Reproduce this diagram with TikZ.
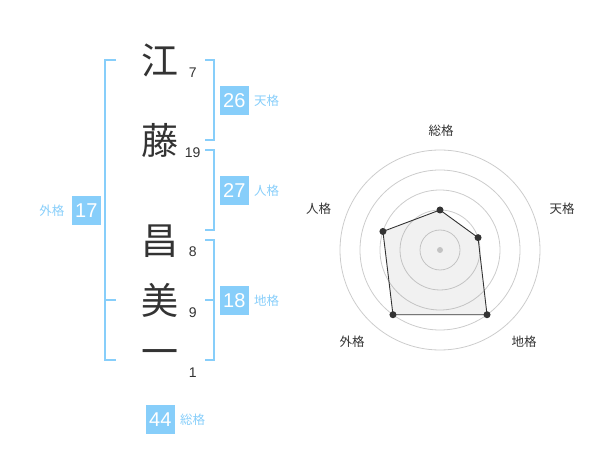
\documentclass[tikz,border=0pt]{standalone}
\usepackage{fontspec}
\setmainfont{Liberation Sans}
\newfontfamily\cjk{Noto Sans CJK JP}
\usepackage{tikz}
\usetikzlibrary{calc}
\usetikzlibrary{positioning}
\definecolor{kakucolour}{RGB}{135,206,250}
\definecolor{inkcolour}{RGB}{51,51,51}
\definecolor{ringcolour}{RGB}{204,204,204}
\definecolor{areacolour}{RGB}{120,120,120}
\newcommand\bracketwd{2pt}
\newcommand\ringwd{.8pt}
\newcommand\areawd{.9pt}
\tikzstyle{kanji}    = [font=\cjk\fontsize{37}{37}\selectfont, text=inkcolour, inner sep=0pt]
\tikzstyle{strokes}  = [font=\fontsize{14}{14}\selectfont, text=inkcolour, inner sep=0pt]
\tikzstyle{kakubox}  = [fill=kakucolour, text=white, minimum size=29pt, inner sep=0pt,
                        font=\fontsize{20}{20}\selectfont]
\tikzstyle{kakuname} = [font=\cjk\fontsize{12.5}{12.5}\selectfont, text=kakucolour, inner sep=0pt]
\tikzstyle{bracket}  = [draw=kakucolour, line width=\bracketwd]
\tikzstyle{ring}     = [draw=ringcolour, line width=\ringwd]
\tikzstyle{area}     = [draw=inkcolour, line width=\areawd, fill=areacolour, fill opacity=.1]
\tikzstyle{vertex}   = [circle, fill=inkcolour, minimum size=7pt, inner sep=0pt]
\tikzstyle{axisname} = [font=\cjk\fontsize{12.5}{12.5}\selectfont, text=inkcolour, inner sep=0pt]

\begin{document}
\begin{tikzpicture}[x=1pt, y=-1pt]
    \useasboundingbox (0, 0) rectangle (600, 470);
    \draw (160, 60) node[kanji] (c1) {江};
    \draw (160, 140.5) node[kanji] (c2) {藤};
    \draw (160, 241) node[kanji] (c3) {昌};
    \draw (160, 300) node[kanji] (c4) {美};
    \draw (160, 358) node[kanji] (c5) {一};
    \draw (192.7, 72.5) node[strokes] (s1) {7};
    \draw (192.7, 152.5) node[strokes] (s2) {19};
    \draw (192.7, 252) node[strokes] (s3) {8};
    \draw (192.7, 312.5) node[strokes] (s4) {9};
    \draw (192.7, 372.5) node[strokes] (s5) {1};
    \draw[bracket] (205, 60) -- (214, 60) -- (214, 140) -- (205, 140);
    \draw[bracket] (205, 150) -- (214, 150) -- (214, 230) -- (205, 230);
    \draw[bracket] (205, 240) -- (214, 240) -- (214, 360) -- (205, 360);
    \draw[bracket] (214, 300) -- (205, 300);
    \draw[bracket] (116, 60) -- (105, 60) -- (105, 360) -- (116, 360);
    \draw[bracket] (105, 300) -- (116, 300);
    \draw (234.3, 100.3) node[kakubox] (ten) {26};
    \draw (234.3, 190.3) node[kakubox] (jin) {27};
    \draw (234.3, 300.3) node[kakubox] (chi) {18};
    \draw (86.3, 210.3) node[kakubox] (gai) {17};
    \draw (160.3, 419.3) node[kakubox] (sou) {44};
    \node[kakuname, right=5pt of ten] (tenname) {天格};
    \node[kakuname, right=5pt of jin] (jinname) {人格};
    \node[kakuname, right=5pt of chi] (chiname) {地格};
    \node[kakuname, left=7pt of gai] (gainame) {外格};
    \node[kakuname, right=5pt of sou] (souname) {総格};
    \coordinate (ctr) at (440, 250);
    \foreach \r in {20, 40, 60, 80, 100}
        \draw[ring] (ctr) circle[radius=\r pt];
    \fill[ringcolour] (ctr) circle[radius=3pt];
    \coordinate (psou) at ([shift={(90:40pt)}]ctr);
    \coordinate (pten) at ([shift={(18:40pt)}]ctr);
    \coordinate (pchi) at ([shift={(-54:80pt)}]ctr);
    \coordinate (pgai) at ([shift={(-126:80pt)}]ctr);
    \coordinate (pjin) at ([shift={(162:60pt)}]ctr);
    \draw[area] (psou) -- (pten) -- (pchi) -- (pgai) -- (pjin) -- cycle;
    \foreach \p in {psou, pten, pchi, pgai, pjin}
        \node[vertex] at (\p) {};
    \draw (441, 131) node[axisname] (asou) {総格};
    \draw (562, 208.7) node[axisname] (aten) {天格};
    \draw (524, 342) node[axisname] (achi) {地格};
    \draw (352, 342) node[axisname] (agai) {外格};
    \draw (318.7, 208.7) node[axisname] (ajin) {人格};
\end{tikzpicture}
\end{document}
